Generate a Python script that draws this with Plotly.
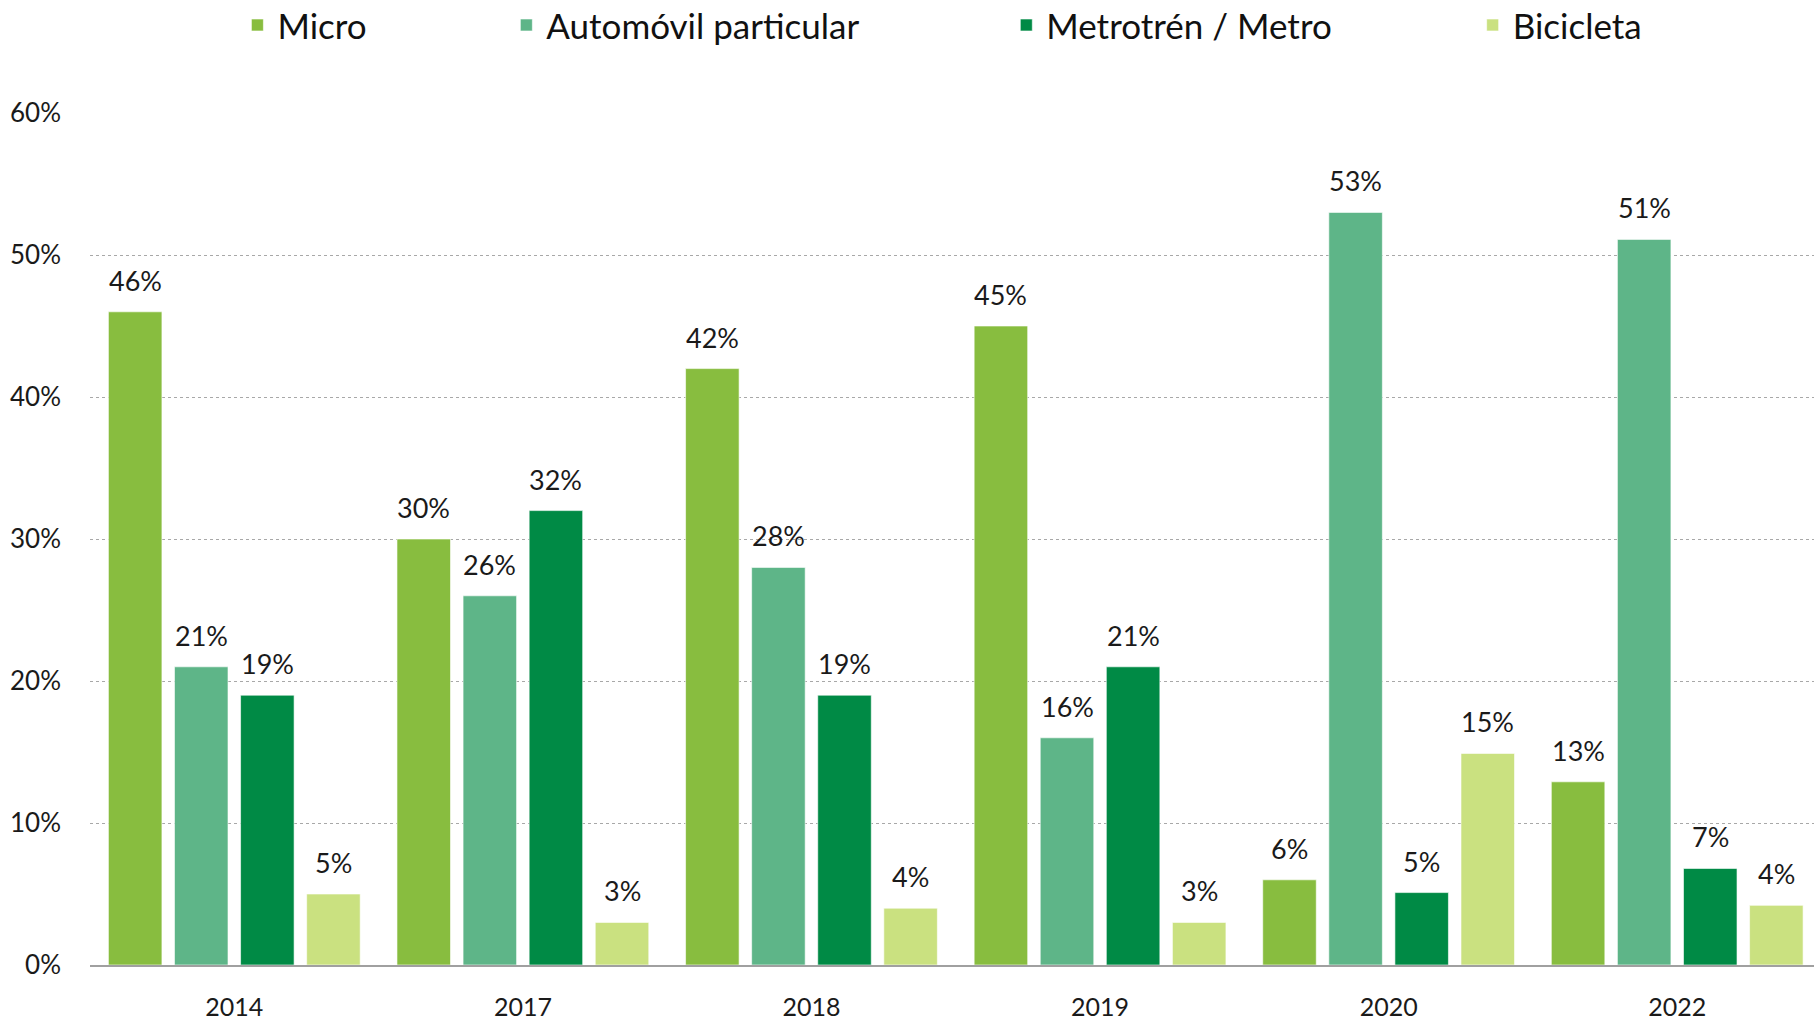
import plotly.graph_objects as go

years = ["2014", "2017", "2018", "2019", "2020", "2022"]

micro = [46, 30, 42, 45, 6, 12.9]
automovil = [21, 26, 28, 16, 53, 51.1]
metro = [19, 32, 19, 21, 5.1, 6.8]
bicicleta = [5, 3, 4, 3, 14.9, 4.2]

series_names = ["Micro", "Automóvil particular", "Metrotrén / Metro", "Bicicleta"]
series_values = [micro, automovil, metro, bicicleta]
series_colors = ["#88bd3f", "#5eb588", "#008a45", "#cae180"]

y_ticks = [0, 10, 20, 30, 40, 50, 60]
y_tick_labels = ["0%", "10%", "20%", "30%", "40%", "50%", "60%"]

FONT = "Lato, 'Noto Sans', sans-serif"
BARGAP = 0.084
BARGROUPGAP = 0.19

fig = go.Figure()
legend_ids = ["legend", "legend2", "legend3", "legend4"]
for name, values, color, leg in zip(series_names, series_values, series_colors, legend_ids):
    fig.add_trace(
        go.Bar(
            x=years,
            y=values,
            name=name,
            marker=dict(color=color, line=dict(color="rgba(255,255,255,0.6)", width=1)),
            legend=leg,
            showlegend=True,
        )
    )

# etiquetas de valor sobre cada barra (centro de la barra dentro del grupo)
n_series = len(series_values)
slot = (1 - BARGAP) / n_series
for j, values in enumerate(series_values):
    for i, v in enumerate(values):
        fig.add_annotation(
            x=i - (1 - BARGAP) / 2 + slot * (j + 0.5),
            y=v,
            xref="x",
            yref="y",
            text=f"{round(v)}%",
            showarrow=False,
            yanchor="bottom",
            yshift=13,
            font=dict(family=FONT, size=27, color="#1a1a1a"),
        )

# una leyenda por serie para ubicar cada entrada como en el original
legend_x = [0.0855, 0.2415, 0.5315, 0.802]
legend_style = dict(
    orientation="h",
    y=1.103,
    yanchor="middle",
    xanchor="left",
    font=dict(family=FONT, size=35, color="#111111"),
    bgcolor="rgba(0,0,0,0)",
)
fig.update_layout(
    showlegend=True,
    legend=dict(x=legend_x[0], **legend_style),
    legend2=dict(x=legend_x[1], **legend_style),
    legend3=dict(x=legend_x[2], **legend_style),
    legend4=dict(x=legend_x[3], **legend_style),
)

fig.update_layout(
    width=1814,
    height=1021,
    barmode="group",
    bargap=BARGAP,
    bargroupgap=BARGROUPGAP,
    plot_bgcolor="white",
    paper_bgcolor="white",
    margin=dict(l=90, r=0, t=113, b=56, autoexpand=False),
)
fig.update_xaxes(
    type="category",
    range=[-0.5, 5.474],
    showgrid=False,
    showline=True,
    linecolor="#a0a0a0",
    linewidth=2,
    ticks="",
    tickfont=dict(family=FONT, size=25, color="#1a1a1a"),
    ticklabelstandoff=19,
    automargin=False,
)
fig.update_yaxes(
    range=[0, 60],
    tickvals=y_ticks,
    ticktext=y_tick_labels,
    showgrid=True,
    gridcolor="#a8a8a8",
    griddash="dot",
    gridwidth=1,
    zeroline=False,
    tickfont=dict(family=FONT, size=26, color="#1a1a1a"),
    ticklabelstandoff=28,
    automargin=False,
)

fig.write_html(
    "out.html",
    config={"displayModeBar": False},
    post_script="document.body.style.margin = '0';",
)
